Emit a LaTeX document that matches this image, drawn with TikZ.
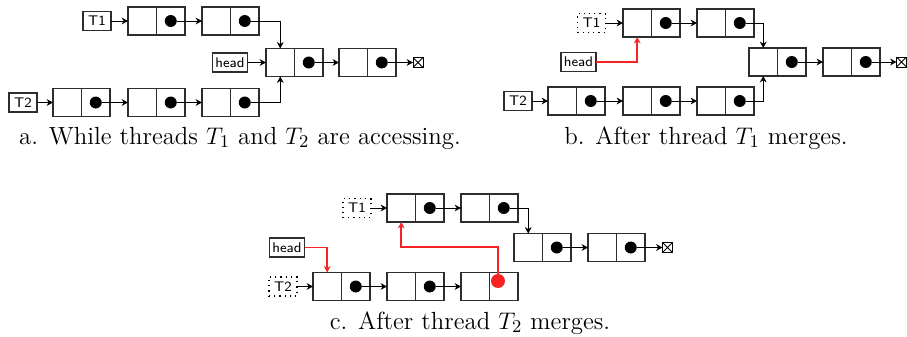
\documentclass[tikz,border=0pt]{standalone}
\usepackage{amsmath}
\usetikzlibrary{positioning,arrows.meta}
\definecolor{cellColor}{RGB}{45,45,45}
\definecolor{mergeColor}{RGB}{245,35,35}
\tikzstyle{lists} = [x=0.5pt, y=-0.5pt, >={Stealth[length=3.2pt,width=3.4pt]}]
\tikzstyle{cellStyle} = [draw=cellColor, line width=0.65pt, minimum width=14.25pt, minimum height=14pt, inner sep=0pt, outer sep=0pt]
\tikzstyle{dotStyle} = [circle, fill=black, minimum size=6pt, inner sep=0pt]
\tikzstyle{redDotStyle} = [circle, fill=mergeColor, minimum size=7pt, inner sep=0pt]
\tikzstyle{pointerStyle} = [draw=cellColor, line width=0.6pt, font=\fontsize{7}{8}\sffamily, minimum height=9.5pt, minimum width=14pt, inner sep=1.5pt, outer sep=0pt]
\tikzstyle{dottedPointer} = [pointerStyle, draw=black, dotted]
\tikzstyle{link} = [->, line width=0.5pt]
\tikzstyle{redLink} = [->, line width=0.8pt, color=mergeColor]
\tikzstyle{nullStyle} = [draw, line width=0.5pt, minimum size=5pt, inner sep=0pt, outer sep=0pt,
  path picture={\draw [line width=0.4pt] (path picture bounding box.south west) -- (path picture bounding box.north east)
    (path picture bounding box.north west) -- (path picture bounding box.south east);}]
\tikzstyle{captionText} = [font=\fontsize{12.4}{15}\selectfont, inner sep=0pt]
\newcommand{\emptyNode}[3]{
  \node [cellStyle] (#1l) at (#2,#3) {};
  \node [cellStyle, right=0pt of #1l] (#1r) {};
}
\newcommand{\listNode}[3]{
  \emptyNode{#1}{#2}{#3}
  \node [dotStyle] (#1d) at (#1r) {};
}

\begin{document}
\begin{tikzpicture}[lists]
  \useasboundingbox (0,0) rectangle (907,337);

  \node [pointerStyle] (aTone) at (97,21) {T1};
  \node [pointerStyle] (aHead) at (230,62.5) {head};
  \node [pointerStyle] (aTtwo) at (23,102.5) {T2};
  \listNode{aTopOne}{142.25}{21}
  \listNode{aTopTwo}{216.25}{21}
  \listNode{aMidOne}{280.25}{62.5}
  \listNode{aMidTwo}{353.25}{62.5}
  \listNode{aBotOne}{67.25}{102.5}
  \listNode{aBotTwo}{142.25}{102.5}
  \listNode{aBotThree}{216.25}{102.5}
  \node [nullStyle] (aNull) at (418,62.5) {};
  \draw [link] (aTone) -- (aTopOnel);
  \draw [link] (aTopOned) -- (aTopTwol);
  \draw [link] (aTopTwod) -| (aMidOnel.north);
  \draw [link] (aHead) -- (aMidOnel);
  \draw [link] (aMidOned) -- (aMidTwol);
  \draw [link] (aMidTwod) -- (aNull);
  \draw [link] (aTtwo) -- (aBotOnel);
  \draw [link] (aBotOned) -- (aBotTwol);
  \draw [link] (aBotTwod) -- (aBotThreel);
  \draw [link] (aBotThreed) -| (aMidOnel.south);
  \node [captionText] (aCaption) at (240,138) {a. While threads $T_1$ and $T_2$ are accessing.};

  \node [dottedPointer] (bTone) at (591.5,23) {T1};
  \node [pointerStyle] (bHead) at (578.5,62) {head};
  \node [pointerStyle] (bTtwo) at (518,101) {T2};
  \listNode{bTopOne}{637.25}{23}
  \listNode{bTopTwo}{711.25}{23}
  \listNode{bMidOne}{763.25}{62}
  \listNode{bMidTwo}{837.25}{62}
  \listNode{bBotOne}{562.25}{101}
  \listNode{bBotTwo}{637.25}{101}
  \listNode{bBotThree}{711.25}{101}
  \node [nullStyle] (bNull) at (901.5,62) {};
  \draw [link] (bTone) -- (bTopOnel);
  \draw [link] (bTopOned) -- (bTopTwol);
  \draw [link] (bTopTwod) -| (bMidOnel.north);
  \draw [redLink] (bHead) -| (bTopOnel.south);
  \draw [link] (bMidOned) -- (bMidTwol);
  \draw [link] (bMidTwod) -- (bNull);
  \draw [link] (bTtwo) -- (bBotOnel);
  \draw [link] (bBotOned) -- (bBotTwol);
  \draw [link] (bBotTwod) -- (bBotThreel);
  \draw [link] (bBotThreed) -| (bMidOnel.south);
  \node [captionText] (bCaption) at (706,138) {b. After thread $T_1$ merges.};

  \node [dottedPointer] (cTone) at (357,208) {T1};
  \node [pointerStyle] (cHead) at (287,247.5) {head};
  \node [dottedPointer] (cTtwo) at (283,286.5) {T2};
  \listNode{cTopOne}{401.25}{208}
  \listNode{cTopTwo}{475.25}{208}
  \listNode{cMidOne}{528.25}{247.5}
  \listNode{cMidTwo}{602.25}{247.5}
  \listNode{cBotOne}{327.25}{286.5}
  \listNode{cBotTwo}{401.25}{286.5}
  \emptyNode{cBotThree}{475.25}{286.5}
  \node [redDotStyle] (cRedDot) at (498,281) {};
  \coordinate (cBend) at (401.25,247);
  \node [nullStyle] (cNull) at (667.5,247.5) {};
  \draw [link] (cTone) -- (cTopOnel);
  \draw [link] (cTopOned) -- (cTopTwol);
  \draw [link] (cTopTwod) -| (cMidOnel.north);
  \draw [link] (cMidOned) -- (cMidTwol);
  \draw [link] (cMidTwod) -- (cNull);
  \draw [redLink] (cHead) -| (cBotOnel.north);
  \draw [link] (cTtwo) -- (cBotOnel);
  \draw [link] (cBotOned) -- (cBotTwol);
  \draw [link] (cBotTwod) -- (cBotThreel);
  \draw [redLink] (cRedDot) |- (cBend) -- (cTopOnel.south);
  \node [captionText] (cCaption) at (470,323) {c. After thread $T_2$ merges.};
\end{tikzpicture}
\end{document}
